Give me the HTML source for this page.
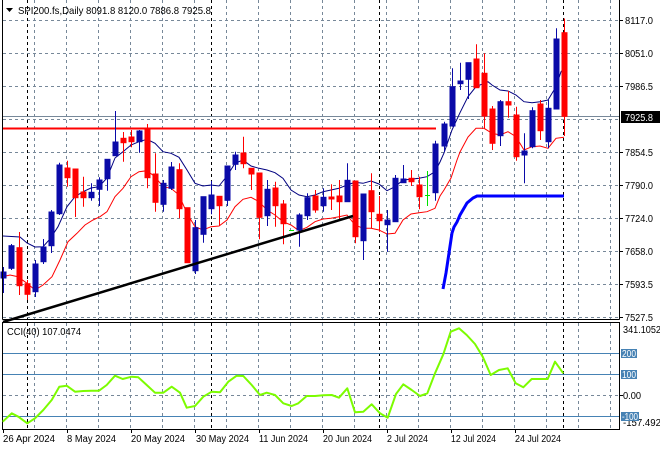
<!DOCTYPE html>
<html><head><meta charset="utf-8"><style>
html,body{margin:0;padding:0;background:#fff;}
svg{display:block;font-family:"Liberation Sans",sans-serif;}
</style></head><body>
<svg width="660" height="450" viewBox="0 0 660 450" xmlns="http://www.w3.org/2000/svg">
<rect width="660" height="450" fill="#fff"/>
<!-- main grid horizontal -->
<g stroke="#778899" stroke-width="1" stroke-dasharray="3,3" fill="none">
<line x1="3" y1="20.5" x2="619" y2="20.5"/>
<line x1="3" y1="53.5" x2="619" y2="53.5"/>
<line x1="3" y1="86.5" x2="619" y2="86.5"/>
<line x1="3" y1="119.5" x2="619" y2="119.5"/>
<line x1="3" y1="152.5" x2="619" y2="152.5"/>
<line x1="3" y1="185.5" x2="619" y2="185.5"/>
<line x1="3" y1="218.5" x2="619" y2="218.5"/>
<line x1="3" y1="251.5" x2="619" y2="251.5"/>
<line x1="3" y1="284.5" x2="619" y2="284.5"/>
<line x1="3" y1="317.5" x2="619" y2="317.5"/>
</g>
<!-- vertical gray grid -->
<g stroke="#778899" stroke-width="1" stroke-dasharray="3,3" fill="none">
<line x1="34.5" y1="0" x2="34.5" y2="319"/><line x1="66.5" y1="0" x2="66.5" y2="319"/><line x1="98.5" y1="0" x2="98.5" y2="319"/><line x1="130.5" y1="0" x2="130.5" y2="319"/><line x1="162.5" y1="0" x2="162.5" y2="319"/><line x1="194.5" y1="0" x2="194.5" y2="319"/><line x1="226.5" y1="0" x2="226.5" y2="319"/><line x1="258.5" y1="0" x2="258.5" y2="319"/><line x1="290.5" y1="0" x2="290.5" y2="319"/><line x1="322.5" y1="0" x2="322.5" y2="319"/><line x1="354.5" y1="0" x2="354.5" y2="319"/><line x1="386.5" y1="0" x2="386.5" y2="319"/><line x1="418.5" y1="0" x2="418.5" y2="319"/><line x1="450.5" y1="0" x2="450.5" y2="319"/><line x1="482.5" y1="0" x2="482.5" y2="319"/><line x1="514.5" y1="0" x2="514.5" y2="319"/><line x1="546.5" y1="0" x2="546.5" y2="319"/><line x1="578.5" y1="0" x2="578.5" y2="319"/><line x1="610.5" y1="0" x2="610.5" y2="319"/>
<line x1="34.5" y1="323" x2="34.5" y2="429"/><line x1="66.5" y1="323" x2="66.5" y2="429"/><line x1="98.5" y1="323" x2="98.5" y2="429"/><line x1="130.5" y1="323" x2="130.5" y2="429"/><line x1="162.5" y1="323" x2="162.5" y2="429"/><line x1="194.5" y1="323" x2="194.5" y2="429"/><line x1="226.5" y1="323" x2="226.5" y2="429"/><line x1="258.5" y1="323" x2="258.5" y2="429"/><line x1="290.5" y1="323" x2="290.5" y2="429"/><line x1="322.5" y1="323" x2="322.5" y2="429"/><line x1="354.5" y1="323" x2="354.5" y2="429"/><line x1="386.5" y1="323" x2="386.5" y2="429"/><line x1="418.5" y1="323" x2="418.5" y2="429"/><line x1="450.5" y1="323" x2="450.5" y2="429"/><line x1="482.5" y1="323" x2="482.5" y2="429"/><line x1="514.5" y1="323" x2="514.5" y2="429"/><line x1="546.5" y1="323" x2="546.5" y2="429"/><line x1="578.5" y1="323" x2="578.5" y2="429"/><line x1="610.5" y1="323" x2="610.5" y2="429"/>
</g>
<!-- month separators -->
<g stroke="#000" stroke-width="1" stroke-dasharray="3,3" fill="none">
<line x1="27.5" y1="0" x2="27.5" y2="319"/><line x1="211.5" y1="0" x2="211.5" y2="319"/><line x1="379.5" y1="0" x2="379.5" y2="319"/><line x1="563.5" y1="0" x2="563.5" y2="319"/>
<line x1="27.5" y1="323" x2="27.5" y2="429"/><line x1="211.5" y1="323" x2="211.5" y2="429"/><line x1="379.5" y1="323" x2="379.5" y2="429"/><line x1="563.5" y1="323" x2="563.5" y2="429"/>
</g>
<!-- current price line -->
<line x1="3" y1="116.5" x2="619" y2="116.5" stroke="#778899" stroke-width="1"/>
<!-- red horizontal level -->
<line x1="3" y1="128.5" x2="436" y2="128.5" stroke="#ff0000" stroke-width="2"/>
<!-- MAs -->
<polyline fill="none" stroke="#000080" stroke-width="1" points="3,236 20,237 27,243 35,247 43,246.7 50,239 58,226.7 67,206.7 75,196.7 83,191.7 91,188 99,186.7 107,178 115,158 123,151.7 131,145 139,141.7 147,139.3 155,143.3 163,151.7 171,153.3 179,157.3 187,170 195,183.3 203,186 211,185 219,186 227,176 235,163.3 243,160 251,166 259,168.3 267,170 275,172.7 283,178.3 291,190 299,195 307,196.7 315,195 323,191.7 331,190 339,188.3 347,185 355,182.3 363,183.3 371,181 379,184 387,190.7 395,186.7 403,180 411,179.3 419,178.3 427,176.7 435,171.7 440,162 444,153 452,130 460,112.7 468,96.7 476,86.7 484,83.3 488,81.7 492,85 500,90 508,91 516,95 524,101.7 532,102.7 540,101.7 548,100 556,86.7 561,71.7 564,68.3"/>
<polyline fill="none" stroke="#ff0000" stroke-width="1" points="3,276.7 10,275 18,276.7 27,283.3 35,290 43,285 52,276.7 60,260 68,241.7 77,233.3 85,225 93,220 100,216.7 107,211.7 115,196.7 123,188.3 131,176.7 139,171.7 147,170.7 155,176.7 163,186.7 171,188.3 179,195 187,213.3 195,226.7 203,230 211,226.7 219,226 227,220 235,206.7 243,199.3 251,197.3 259,201.7 267,210 275,215 283,221.7 291,225 299,230.7 307,227.3 315,221.7 323,219 331,218.3 339,216.7 347,215 355,225 363,228.3 371,228.3 379,230 387,234 395,233.3 403,220 411,214 419,212.7 427,211.7 435,208.3 440,196 444,190 451,178 457,160 460,152 468,137 476,128.3 484,128.3 492,133.3 500,135 508,131.7 516,136.7 524,150 532,146.7 540,146 548,148.3 556,138.3 564,137.3"/>
<polyline fill="none" stroke="#0000ff" stroke-width="3" points="443,289 446,273 449,253 452,233 454,227 457,222 460,215 467,203 473,198 477,196 564,196"/>
<!-- candles -->
<g stroke-width="1">
<g stroke="#0a0aa8" fill="#0a0aa8">
<line x1="3.5" y1="267" x2="3.5" y2="293"/><rect x="1" y="272" width="5" height="6"/>
<line x1="11.5" y1="244" x2="11.5" y2="270"/><rect x="9" y="245.7" width="5" height="22.6"/>
<line x1="35.5" y1="260" x2="35.5" y2="297"/><rect x="33" y="264" width="5" height="27.7"/>
<line x1="43.5" y1="239" x2="43.5" y2="264"/><rect x="41" y="247" width="5" height="14.7"/>
<line x1="51.5" y1="210" x2="51.5" y2="253"/><rect x="49" y="212" width="5" height="33.7"/>
<line x1="59.5" y1="162.7" x2="59.5" y2="215"/><rect x="57" y="165" width="5" height="48.7"/>
<line x1="91.5" y1="183.3" x2="91.5" y2="200.7"/><rect x="89" y="192.3" width="5" height="5.4"/>
<line x1="99.5" y1="177.3" x2="99.5" y2="206"/><rect x="97" y="180" width="5" height="9.3"/>
<line x1="107.5" y1="159.3" x2="107.5" y2="190.7"/><rect x="105" y="159.3" width="5" height="19.4"/>
<line x1="115.5" y1="111" x2="115.5" y2="155.7"/><rect x="113" y="142" width="5" height="13.7"/>
<line x1="139.5" y1="130" x2="139.5" y2="152.7"/><rect x="137" y="131" width="5" height="10.7"/>
<line x1="163.5" y1="180" x2="163.5" y2="211.7"/><rect x="161" y="183.3" width="5" height="21"/>
<line x1="171.5" y1="162" x2="171.5" y2="190"/><rect x="169" y="167" width="5" height="21.3"/>
<line x1="195.5" y1="220" x2="195.5" y2="274"/><rect x="193" y="227.7" width="5" height="43"/>
<line x1="203.5" y1="196.7" x2="203.5" y2="242.7"/><rect x="201" y="196.7" width="5" height="37.6"/>
<line x1="211.5" y1="181" x2="211.5" y2="214.3"/><rect x="209" y="195" width="5" height="13.7"/>
<line x1="227.5" y1="166" x2="227.5" y2="206"/><rect x="225" y="166" width="5" height="34.3"/>
<line x1="235.5" y1="151.7" x2="235.5" y2="170"/><rect x="233" y="155" width="5" height="9.3"/>
<line x1="267.5" y1="180" x2="267.5" y2="226"/><rect x="265" y="189.3" width="5" height="26.4"/>
<line x1="299.5" y1="213.3" x2="299.5" y2="246.7"/><rect x="297" y="215" width="5" height="15"/>
<line x1="307.5" y1="193.3" x2="307.5" y2="220"/><rect x="305" y="197.7" width="5" height="18"/>
<line x1="323.5" y1="188.3" x2="323.5" y2="211.7"/><rect x="321" y="197.3" width="5" height="8.4"/>
<line x1="347.5" y1="163.3" x2="347.5" y2="201.7"/><rect x="345" y="180.3" width="5" height="21.4"/>
<line x1="363.5" y1="194" x2="363.5" y2="260"/><rect x="361" y="194" width="5" height="46.7"/>
<line x1="387.5" y1="210" x2="387.5" y2="251.7"/><rect x="385" y="220" width="5" height="4.7"/>
<line x1="395.5" y1="175" x2="395.5" y2="221.7"/><rect x="393" y="178.3" width="5" height="43.4"/>
<line x1="403.5" y1="165" x2="403.5" y2="182.7"/><rect x="401" y="179" width="5" height="3.7"/>
<line x1="435.5" y1="140.7" x2="435.5" y2="200.7"/><rect x="433" y="144" width="5" height="48.7"/>
<line x1="444.5" y1="121.7" x2="444.5" y2="151.7"/><rect x="442" y="124" width="5" height="22"/>
<line x1="452.5" y1="68.3" x2="452.5" y2="126.7"/><rect x="450" y="86.7" width="5" height="39.3"/>
<line x1="460.5" y1="62.7" x2="460.5" y2="90"/><rect x="458" y="81" width="5" height="2.7"/>
<line x1="468.5" y1="62.7" x2="468.5" y2="99"/><rect x="466" y="62.7" width="5" height="16.6"/>
<line x1="500.5" y1="100" x2="500.5" y2="146"/><rect x="498" y="101.7" width="5" height="34"/>
<line x1="524.5" y1="133.3" x2="524.5" y2="183.3"/><rect x="522" y="151" width="5" height="4"/>
<line x1="532.5" y1="107.3" x2="532.5" y2="148.3"/><rect x="530" y="110.7" width="5" height="36"/>
<line x1="548.5" y1="100" x2="548.5" y2="148.3"/><rect x="546" y="108.3" width="5" height="33.4"/>
<line x1="556.5" y1="28.3" x2="556.5" y2="109"/><rect x="554" y="39" width="5" height="70"/>
</g>
<g stroke="#ff0000" fill="#ff0000">
<line x1="19.5" y1="232" x2="19.5" y2="295"/><rect x="17" y="247.7" width="5" height="38"/>
<line x1="27.5" y1="280" x2="27.5" y2="300"/><rect x="25" y="283.7" width="5" height="10.6"/>
<line x1="67.5" y1="160.7" x2="67.5" y2="186.7"/><rect x="65" y="168" width="5" height="9.7"/>
<line x1="75.5" y1="169" x2="75.5" y2="217"/><rect x="73" y="169" width="5" height="28.7"/>
<line x1="83.5" y1="176.7" x2="83.5" y2="206.7"/><rect x="81" y="192" width="5" height="5.7"/>
<line x1="123.5" y1="132" x2="123.5" y2="161.7"/><rect x="121" y="138.3" width="5" height="4.4"/>
<line x1="131.5" y1="130" x2="131.5" y2="147.3"/><rect x="129" y="137" width="5" height="4.7"/>
<line x1="147.5" y1="124" x2="147.5" y2="188.3"/><rect x="145" y="129" width="5" height="48.7"/>
<line x1="155.5" y1="153.3" x2="155.5" y2="211.7"/><rect x="153" y="174" width="5" height="28.3"/>
<line x1="179.5" y1="163.3" x2="179.5" y2="218.3"/><rect x="177" y="169.7" width="5" height="39"/>
<line x1="187.5" y1="207.7" x2="187.5" y2="262.7"/><rect x="185" y="207.7" width="5" height="55"/>
<line x1="219.5" y1="196.3" x2="219.5" y2="226"/><rect x="217" y="196.3" width="5" height="9.4"/>
<line x1="243.5" y1="136.7" x2="243.5" y2="168.3"/><rect x="241" y="153" width="5" height="10.7"/>
<line x1="251.5" y1="168.3" x2="251.5" y2="190"/><rect x="249" y="168.3" width="5" height="5.7"/>
<line x1="259.5" y1="173" x2="259.5" y2="239.3"/><rect x="257" y="173" width="5" height="44.3"/>
<line x1="275.5" y1="181.7" x2="275.5" y2="226.7"/><rect x="273" y="188" width="5" height="17.7"/>
<line x1="283.5" y1="200" x2="283.5" y2="244.3"/><rect x="281" y="204" width="5" height="19.7"/>
<line x1="315.5" y1="190" x2="315.5" y2="212.7"/><rect x="313" y="196" width="5" height="14"/>
<line x1="331.5" y1="184.3" x2="331.5" y2="210"/><rect x="329" y="197" width="5" height="2"/>
<line x1="339.5" y1="180" x2="339.5" y2="220"/><rect x="337" y="196" width="5" height="5.7"/>
<line x1="355.5" y1="181" x2="355.5" y2="243.3"/><rect x="353" y="181" width="5" height="55.7"/>
<line x1="371.5" y1="173.3" x2="371.5" y2="228.3"/><rect x="369" y="190.7" width="5" height="21"/>
<line x1="379.5" y1="196" x2="379.5" y2="231.7"/><rect x="377" y="214.3" width="5" height="6.4"/>
<line x1="411.5" y1="170" x2="411.5" y2="186"/><rect x="409" y="178.3" width="5" height="3.4"/>
<line x1="419.5" y1="176.7" x2="419.5" y2="209.3"/><rect x="417" y="185" width="5" height="11.7"/>
<line x1="476.5" y1="44.3" x2="476.5" y2="87.7"/><rect x="474" y="59" width="5" height="28.7"/>
<line x1="484.5" y1="53.3" x2="484.5" y2="128.3"/><rect x="482" y="73.3" width="5" height="42.7"/>
<line x1="492.5" y1="106" x2="492.5" y2="150"/><rect x="490" y="109" width="5" height="34.3"/>
<line x1="508.5" y1="91" x2="508.5" y2="117.7"/><rect x="506" y="101.7" width="5" height="3.3"/>
<line x1="516.5" y1="106.7" x2="516.5" y2="160.7"/><rect x="514" y="115" width="5" height="41.7"/>
<line x1="540.5" y1="100" x2="540.5" y2="140"/><rect x="538" y="104" width="5" height="26.7"/>
<line x1="564.5" y1="18.5" x2="564.5" y2="136"/><rect x="562" y="32.7" width="5" height="83.6"/>
</g>
<g stroke="#00e000" fill="none">
<line x1="289" y1="230.5" x2="294" y2="230.5"/>
<line x1="427.5" y1="171" x2="427.5" y2="206"/><line x1="425" y1="195.5" x2="430" y2="195.5"/>
</g>
</g>
<!-- trend line -->
<line x1="3" y1="322" x2="353" y2="216" stroke="#000" stroke-width="2.5"/>
<!-- frames -->
<g stroke="#000" stroke-width="1" fill="none">
<line x1="2.5" y1="0" x2="2.5" y2="319.5"/>
<line x1="619.5" y1="0" x2="619.5" y2="319.5"/>
<line x1="2.5" y1="319.5" x2="619.5" y2="319.5"/>
<rect x="2.5" y="322.5" width="617" height="107"/>
</g>
<!-- right axis ticks -->
<g stroke="#000" stroke-width="1">
<line x1="619" y1="20.5" x2="623" y2="20.5"/><line x1="619" y1="53.5" x2="623" y2="53.5"/><line x1="619" y1="86.5" x2="623" y2="86.5"/><line x1="619" y1="152.5" x2="623" y2="152.5"/><line x1="619" y1="185.5" x2="623" y2="185.5"/><line x1="619" y1="218.5" x2="623" y2="218.5"/><line x1="619" y1="251.5" x2="623" y2="251.5"/><line x1="619" y1="284.5" x2="623" y2="284.5"/><line x1="619" y1="317.5" x2="623" y2="317.5"/>
<line x1="619" y1="395.5" x2="623" y2="395.5"/>
</g>
<!-- title -->
<polygon points="6,8 13,8 9.5,12" fill="#000"/>
<text x="18" y="14" font-size="10.5" fill="#000" textLength="193" lengthAdjust="spacingAndGlyphs">SPI200.fs,Daily  8091.8 8120.0 7886.8 7925.8</text>
<!-- price labels -->
<g font-size="10" fill="#000">
<text x="625" y="24" textLength="28" lengthAdjust="spacingAndGlyphs">8117.0</text>
<text x="625" y="57" textLength="28" lengthAdjust="spacingAndGlyphs">8051.0</text>
<text x="625" y="90" textLength="28" lengthAdjust="spacingAndGlyphs">7986.5</text>
<text x="625" y="156" textLength="28" lengthAdjust="spacingAndGlyphs">7854.5</text>
<text x="625" y="189" textLength="28" lengthAdjust="spacingAndGlyphs">7790.0</text>
<text x="625" y="222" textLength="28" lengthAdjust="spacingAndGlyphs">7724.0</text>
<text x="625" y="255" textLength="28" lengthAdjust="spacingAndGlyphs">7658.0</text>
<text x="625" y="288" textLength="28" lengthAdjust="spacingAndGlyphs">7593.5</text>
<text x="625" y="321" textLength="28" lengthAdjust="spacingAndGlyphs">7527.5</text>
</g>
<rect x="621" y="111" width="39" height="12" fill="#000"/>
<text x="625" y="121" font-size="10" fill="#fff" textLength="28" lengthAdjust="spacingAndGlyphs">7925.8</text>
<!-- CCI panel -->
<g stroke="#4682b4" stroke-width="1">
<line x1="3" y1="353.5" x2="619" y2="353.5"/>
<line x1="3" y1="374.5" x2="619" y2="374.5"/>
<line x1="3" y1="416.5" x2="619" y2="416.5"/>
</g>
<line x1="3" y1="395.5" x2="619" y2="395.5" stroke="#778899" stroke-dasharray="3,3"/>
<polyline fill="none" stroke="#7cfc00" stroke-width="2" stroke-linejoin="round" points="2.7,421.7 11.7,413.3 18.3,416.7 27.3,423.3 35,418.3 43.3,410 51.7,400 59.3,386.7 66.7,385.7 75,391.7 83.3,391 91.7,390.7 99,390.7 106.7,385 115,375.7 122.7,379 131.7,376.7 138.3,377.3 146.7,385 155,392.7 163.3,392.7 171.7,386.7 180,392.7 186.7,407.7 195,406 203.3,396.7 211.7,391.7 220,392.3 228.3,381.7 236.7,375.7 243.3,376 251.7,385 260,395 266.7,392.7 275,395 283.3,403.3 291.7,406 298.3,403.3 306.7,396 315,396 323.3,395.3 331.7,395 339,397.7 347.3,388.3 355,412.3 363.3,411.7 371.7,404.3 380,413.3 387.7,417.7 396,394 403.3,384.3 411.7,390 420,396 427.3,393.3 435,373.3 443.3,354.3 450.7,331.7 459,328.3 466.7,335 475,344 482.7,356.7 490.7,375 499,370 507.7,368.3 515.7,383.3 523.3,387.3 531.7,379 540,379 547.7,379 555,361.7 563.3,373.3"/>
<text x="7" y="335" font-size="10" fill="#000" textLength="74" lengthAdjust="spacingAndGlyphs">CCI(40) 107.0474</text>
<g font-size="10">
<text x="623" y="333" fill="#000" textLength="38" lengthAdjust="spacingAndGlyphs">341.1052</text>
<rect x="621" y="349" width="16" height="9" fill="#4682b4"/>
<text x="622" y="357" fill="#fff" textLength="14" lengthAdjust="spacingAndGlyphs">200</text>
<rect x="621" y="370" width="16" height="9" fill="#4682b4"/>
<text x="622" y="378" fill="#fff" textLength="14" lengthAdjust="spacingAndGlyphs">100</text>
<text x="623" y="399" fill="#000" textLength="18" lengthAdjust="spacingAndGlyphs">0.00</text>
<text x="623" y="426" fill="#000" textLength="38" lengthAdjust="spacingAndGlyphs">-157.492</text>
<rect x="621" y="412" width="18" height="9" fill="#4682b4"/>
<text x="622" y="420" fill="#fff" textLength="16" lengthAdjust="spacingAndGlyphs">-100</text>
</g>
<!-- x axis ticks & labels -->
<g stroke="#000" stroke-width="1">
<line x1="3.5" y1="429" x2="3.5" y2="433"/><line x1="67.5" y1="429" x2="67.5" y2="433"/><line x1="131.5" y1="429" x2="131.5" y2="433"/><line x1="195.5" y1="429" x2="195.5" y2="433"/><line x1="259.5" y1="429" x2="259.5" y2="433"/><line x1="323.5" y1="429" x2="323.5" y2="433"/><line x1="387.5" y1="429" x2="387.5" y2="433"/><line x1="451.5" y1="429" x2="451.5" y2="433"/><line x1="515.5" y1="429" x2="515.5" y2="433"/>
</g>
<g font-size="10" fill="#000">
<text x="3" y="442" textLength="52" lengthAdjust="spacingAndGlyphs">26 Apr 2024</text>
<text x="67" y="442" textLength="49" lengthAdjust="spacingAndGlyphs">8 May 2024</text>
<text x="131" y="442" textLength="54" lengthAdjust="spacingAndGlyphs">20 May 2024</text>
<text x="196" y="442" textLength="53" lengthAdjust="spacingAndGlyphs">30 May 2024</text>
<text x="259" y="442" textLength="49" lengthAdjust="spacingAndGlyphs">11 Jun 2024</text>
<text x="323" y="442" textLength="49" lengthAdjust="spacingAndGlyphs">20 Jun 2024</text>
<text x="387" y="442" textLength="41" lengthAdjust="spacingAndGlyphs">2 Jul 2024</text>
<text x="451" y="442" textLength="45" lengthAdjust="spacingAndGlyphs">12 Jul 2024</text>
<text x="515" y="442" textLength="46" lengthAdjust="spacingAndGlyphs">24 Jul 2024</text>
</g>
</svg>
</body></html>
